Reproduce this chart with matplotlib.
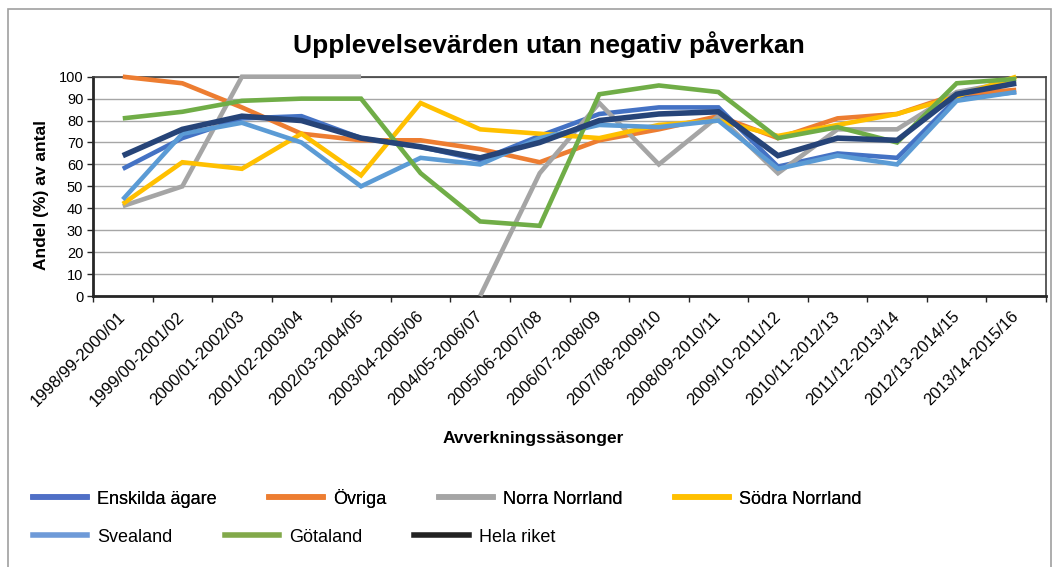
import numpy as np
import matplotlib
matplotlib.use("Agg")
import matplotlib.pyplot as plt
from matplotlib.lines import Line2D
from matplotlib.patches import Rectangle

plt.rcParams["font.family"] = ["Liberation Sans", "DejaVu Sans"]

SEASONS = [
    "1998/99-2000/01", "1999/00-2001/02", "2000/01-2002/03", "2001/02-2003/04",
    "2002/03-2004/05", "2003/04-2005/06", "2004/05-2006/07", "2005/06-2007/08",
    "2006/07-2008/09", "2007/08-2009/10", "2008/09-2010/11", "2009/10-2011/12",
    "2010/11-2012/13", "2011/12-2013/14", "2012/13-2014/15", "2013/14-2015/16",
]

enskilda = [58, 72, 81, 82, 72, 68, 62, 73, 83, 86, 86, 59, 65, 63, 90, 93]
ovriga   = [100, 97, 86, 74, 71, 71, 67, 61, 71, 76, 82, 72, 81, 83, 92, 94]
norra    = [41, 50, 100, 100, 100, np.nan, 0, 56, 88, 60, 82, 56, 76, 76, 93, 98]
sodra    = [42, 61, 58, 74, 55, 88, 76, 74, 72, 78, 80, 73, 78, 83, 91, 100]
svealand = [44, 74, 79, 70, 50, 63, 60, 72, 78, 77, 80, 58, 64, 60, 89, 93]
gotaland = [81, 84, 89, 90, 90, 56, 34, 32, 92, 96, 93, 72, 77, 70, 97, 99]
hela     = [64, 76, 82, 80, 72, 68, 63, 70, 80, 83, 84, 64, 72, 71, 92, 97]

# name, values, line colour, legend colour, line width
SERIES = [
    ("Enskilda ägare", enskilda, "#4472C4", "#4F6FC6", 3.3),
    ("Övriga",         ovriga,   "#ED7D31", "#ED7D31", 3.3),
    ("Norra Norrland", norra,    "#A5A5A5", "#A5A5A5", 3.3),
    ("Södra Norrland", sodra,    "#FFC000", "#FFC000", 3.3),
    ("Svealand",       svealand, "#5B9BD5", "#6E9AD8", 3.3),
    ("Götaland",       gotaland, "#70AD47", "#82A94A", 3.3),
    ("Hela riket",     hela,     "#264478", "#222222", 4.0),
]

fig = plt.figure(figsize=(10.54, 5.67), dpi=100)

# outer chart frame
fig.patches.append(Rectangle((8 / 1054, -0.01), 1043 / 1054, 1 - 9 / 567 + 0.01,
                             transform=fig.transFigure, fill=False,
                             edgecolor="#A0A0A0", linewidth=1.2))

ax = fig.add_axes([93 / 1054, 1 - 296 / 567, (1046 - 93) / 1054, (296 - 76.7) / 567])

x = np.arange(len(SEASONS))
for name, vals, col, _, lw in SERIES:
    ax.plot(x, vals, color=col, linewidth=lw, solid_joinstyle="miter",
            solid_capstyle="butt", clip_on=False, zorder=3)

ax.set_xlim(-0.5, len(SEASONS) - 0.5)
ax.set_ylim(0, 100)
ax.set_yticks(range(0, 101, 10))
ax.yaxis.grid(True, color="#A6A6A6", linewidth=1.0)
ax.set_axisbelow(True)

ax.set_xticks(x)
ax.set_xticklabels(SEASONS, rotation=45, ha="right", va="center",
                   rotation_mode="anchor", fontsize=12)
ax.set_xticks(np.arange(-0.5, len(SEASONS), 1), minor=True)
ax.tick_params(axis="x", which="major", length=0, pad=13)
ax.tick_params(axis="x", which="minor", length=4, width=1, direction="out", color="#262626")
ax.tick_params(axis="y", length=4, width=1, direction="out", color="#262626",
               labelsize=10.5, pad=3)

for side in ("left", "bottom"):
    ax.spines[side].set_linewidth(2)
    ax.spines[side].set_color("#262626")
for side in ("top", "right"):
    ax.spines[side].set_linewidth(1.2)
    ax.spines[side].set_color("#404040")

fig.text(549 / 1054, 1 - 45 / 567, "Upplevelsevärden utan negativ påverkan",
         ha="center", va="center", fontsize=19, fontweight="bold")
fig.text(41.5 / 1054, 1 - 195 / 567, "Andel (%) av antal", rotation=90,
         ha="center", va="center", fontsize=12.5, fontweight="bold")
fig.text(533 / 1054, 1 - 438 / 567, "Avverkningssäsonger",
         ha="center", va="center", fontsize=12.5, fontweight="bold")

handles = [Line2D([], [], color=lc, linewidth=4) for _, _, _, lc, _ in SERIES]
labels = [s[0] for s in SERIES]

leg_kw = dict(frameon=False, fontsize=13, handlelength=3.0, handletextpad=0.55,
              columnspacing=2.9, borderpad=0, borderaxespad=0, loc="center left")
leg1 = fig.legend(handles[:4], labels[:4], ncol=4,
                  bbox_to_anchor=(33 / 1054, 1 - 498 / 567), **leg_kw)
fig.add_artist(leg1)
fig.legend(handles[4:], labels[4:], ncol=3,
           bbox_to_anchor=(33 / 1054, 1 - 537 / 567), **leg_kw)

fig.savefig("out.png", dpi=100)
